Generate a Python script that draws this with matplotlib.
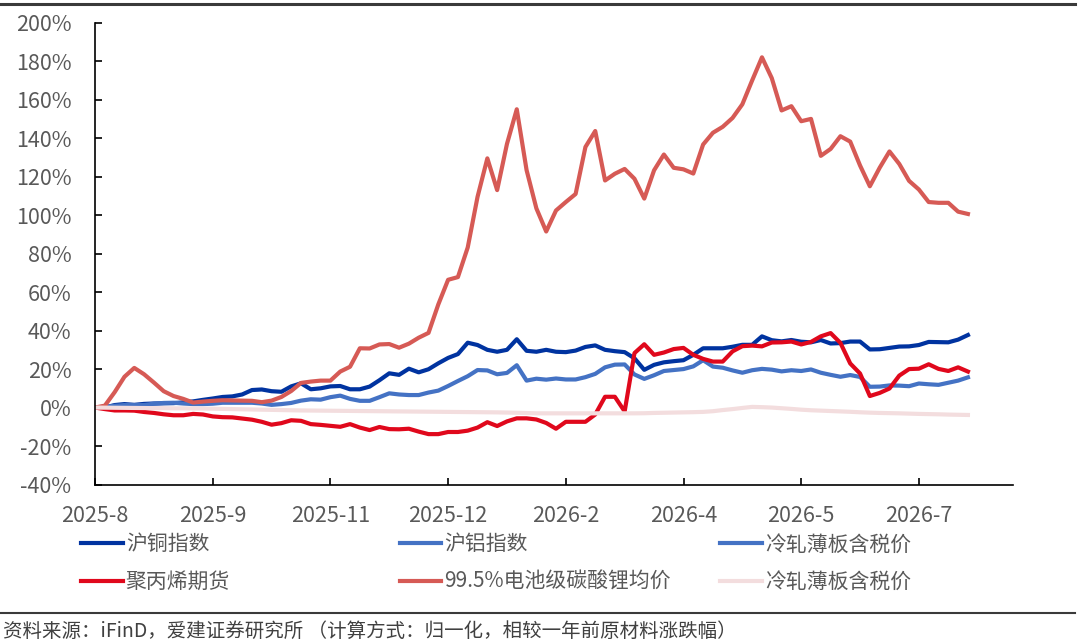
import numpy as np
import matplotlib
matplotlib.use("Agg")
import matplotlib.pyplot as plt
from matplotlib.lines import Line2D

plt.rcParams['font.family'] = ['Noto Sans CJK SC', 'DejaVu Sans']

# 数据：归一化后相对一年前的涨跌幅（%），按交易序号排列
tick_labels = ['2025-8', '2025-9', '2025-11', '2025-12', '2026-2', '2026-4', '2026-5', '2026-7']
tick_step = 12

copper = [0, 0, 1.3, 1.8, 1.4, 1.9, 2.1, 2.2, 2.3, 2.7,
          3.2, 4, 4.7, 5.5, 5.8, 6.8, 9.1, 9.4, 8.5, 8.2,
          11, 12.6, 9.5, 10, 11, 11.2, 9.5, 9.5, 10.9, 14.2,
          17.8, 17, 20.2, 18.3, 19.9, 23, 25.8, 27.8, 33.7, 32.5,
          30, 29, 30, 35.5, 29.5, 29, 30, 29, 28.8, 29.6,
          31.5, 32.3, 30, 29.3, 28.8, 25.6, 19.6, 22.2, 23.5, 24.1,
          24.6, 27.4, 30.8, 30.8, 30.8, 31.6, 32.6, 32.6, 37, 35,
          34.4, 35.1, 34.2, 33.9, 35.1, 33.3, 33.5, 34.3, 34.3, 30.2,
          30.3, 31, 31.7, 31.8, 32.5, 34.1, 34, 33.9, 35.3, 37.7]

aluminum = [0, 0.5, 0.9, 1.3, 1.3, 1.3, 2, 2.4, 2.5, 2.1,
            1.8, 1.8, 2, 2.5, 2.5, 2.5, 2.5, 2.1, 1.4, 1.8,
            2.4, 3.6, 4.3, 4.1, 5.4, 6.2, 4.5, 3.5, 3.5, 5.4,
            7.4, 6.8, 6.5, 6.5, 7.8, 8.8, 11.2, 13.8, 16.3, 19.5,
            19.3, 17.3, 18, 22, 14, 15, 14.5, 15.1, 14.6, 14.6,
            15.8, 17.5, 20.9, 22.3, 22.4, 17.2, 14.9, 16.8, 19, 19.5,
            20, 21.4, 24.6, 21.3, 20.7, 19.3, 18.1, 19.4, 20.1, 19.7,
            18.8, 19.4, 19, 19.8, 18.1, 17, 16, 16.9, 15.9, 10.8,
            10.9, 11.5, 11.4, 11.1, 12.5, 12.1, 11.8, 12.9, 14, 15.7]

steel_blue = []  # 第一条“冷轧薄板含税价”在图中不可见

polypropylene = [0, -0.8, -1.5, -1.5, -1.6, -2.3, -2.8, -3.5, -4, -4,
                 -3.3, -3.6, -4.6, -5, -5.1, -5.7, -6.3, -7.4, -8.9, -8.1,
                 -6.6, -6.9, -8.6, -9, -9.5, -10, -8.6, -10.4, -11.7, -10.1,
                 -11.2, -11.3, -11, -12.5, -13.8, -13.8, -12.7, -12.7, -12, -10.4,
                 -7.6, -9.6, -7.2, -5.6, -5.6, -6.2, -8, -11, -7.4, -7.4,
                 -7.4, -3.6, 5.6, 5.6, -2, 28.3, 32.9, 27.4, 28.6, 30.4,
                 31, 27.4, 25.3, 23.9, 23.9, 29.2, 31.9, 32.2, 31.8, 33.8,
                 33.9, 34.3, 32.8, 34.1, 37, 38.7, 33.6, 22.9, 17.7, 6,
                 7.6, 9.9, 16.6, 20, 20.2, 22.5, 20.1, 19, 20.9, 18.7]

lithium = [0, 1, 8, 16, 20.6, 17.3, 13, 8.5, 6, 4.5,
           2.6, 3.1, 3.5, 3.8, 3.7, 3.6, 3.5, 2.8, 3.6, 5.5,
           8.6, 12.8, 13.5, 14, 14, 18.7, 21.2, 30.8, 30.7, 32.8,
           33, 31.1, 33.2, 36.3, 38.8, 53.6, 66.4, 67.8, 83.2, 109.5,
           129.5, 113, 137, 155, 123.4, 103.5, 91.5, 102.4, 106.8, 111,
           135.4, 143.7, 118, 121.5, 124, 118.9, 108.6, 123.3, 131.5, 124.6,
           123.8, 121.6, 136.7, 142.8, 145.9, 150.5, 157.6, 170, 182, 171.2,
           154.4, 156.6, 148.8, 150, 130.8, 134.4, 141, 138.2, 125.8, 115,
           124.6, 133.1, 126.6, 117.8, 113.3, 106.8, 106.4, 106.4, 101.8, 100.6]

steel_pink = [0, -0.05, -0.1, -0.15, -0.2, -0.25, -0.3, -0.3, -0.4, -0.4,
              -0.5, -0.5, -0.6, -0.7, -0.8, -0.9, -1, -1.1, -1.2, -1.3,
              -1.4, -1.5, -1.55, -1.6, -1.65, -1.7, -1.75, -1.8, -1.85, -1.9,
              -1.95, -2, -2.05, -2.1, -2.15, -2.2, -2.25, -2.3, -2.35, -2.4,
              -2.45, -2.5, -2.6, -2.7, -2.85, -3, -3, -3, -3, -3,
              -3, -3, -3, -3, -3, -3, -2.95, -2.8, -2.7, -2.6,
              -2.5, -2.4, -2.25, -1.9, -1.3, -0.8, -0.2, 0.35, 0.2, 0,
              -0.35, -0.7, -1.1, -1.4, -1.6, -1.8, -2, -2.2, -2.45, -2.65,
              -2.8, -2.9, -3, -3.15, -3.3, -3.4, -3.5, -3.65, -3.75, -3.85]

x = np.arange(len(copper))

fig = plt.figure(figsize=(10.8, 6.41), dpi=100)
ax = fig.add_axes([0.088, 0.2441, 0.85, 0.7205])

lw = 3.0
h1, = ax.plot(x, copper, color='#0033A0', lw=lw, label='沪铜指数')
h2, = ax.plot(x, aluminum, color='#4472C4', lw=lw, label='沪铝指数')
h3, = ax.plot(steel_blue, steel_blue, color='#4472C4', lw=lw, label='冷轧薄板含税价')
h4, = ax.plot(x, polypropylene, color='#E0081C', lw=lw, label='聚丙烯期货')
h5, = ax.plot(x, lithium, color='#D65A55', lw=lw, label='99.5%电池级碳酸锂均价')
h6, = ax.plot(x, steel_pink, color='#F3DDDE', lw=lw, label='冷轧薄板含税价')

ax.set_ylim(-40, 200)
ax.set_yticks(np.arange(-40, 201, 20))
ax.set_yticklabels(['%d%%' % v for v in np.arange(-40, 201, 20)])
ax.set_xlim(0, 93.6)
ax.set_xticks(np.arange(len(tick_labels)) * tick_step)
ax.set_xticklabels(tick_labels)

for s in ['top', 'right']:
    ax.spines[s].set_visible(False)
for s in ['left', 'bottom']:
    ax.spines[s].set_linewidth(1.2)
    ax.spines[s].set_color('black')

ax.tick_params(axis='y', direction='in', length=5, width=1.2, pad=17,
               labelsize=15.5, labelcolor='#595959')
ax.tick_params(axis='x', direction='in', length=5, width=1.2, pad=15,
               labelsize=15.5, labelcolor='#595959')

# 图例：三列，每列两行
cols = [([h1, h4], 0.075), ([h2, h5], 0.370), ([h3, h6], 0.667)]
for hs, xpos in cols:
    fig.legend(handles=hs, loc='upper left', bbox_to_anchor=(xpos, 0.168),
               frameon=False, fontsize=15, ncol=1, handlelength=2.0,
               handletextpad=0.15, labelspacing=0.75, borderpad=0,
               borderaxespad=0, labelcolor='#595959')

# 上下分隔线与资料来源
fig.add_artist(Line2D([0.0, 0.995], [0.9938, 0.9938], color='#3a3a3a', lw=2.2))
fig.add_artist(Line2D([0.0, 0.995], [0.0437, 0.0437], color='#3a3a3a', lw=1.5))
fig.text(0.003, 0.0156, '资料来源：iFinD，爱建证券研究所 （计算方式：归一化，相较一年前原材料涨跌幅）',
         fontsize=14, color='#404040', va='center', ha='left')

fig.savefig('out.png', dpi=100)
